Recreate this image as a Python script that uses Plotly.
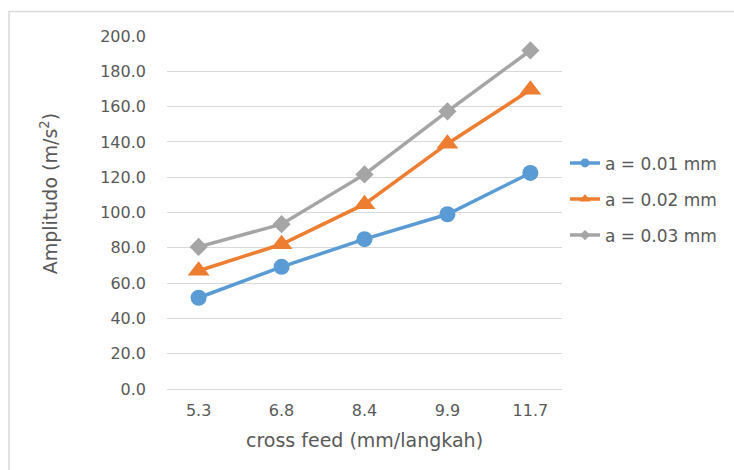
import plotly.graph_objects as go

categories = ["5.3", "6.8", "8.4", "9.9", "11.7"]
a001 = [51.7, 69.2, 84.9, 99.0, 122.4]
a002 = [67.0, 82.0, 104.7, 139.0, 169.5]
a003 = [80.5, 93.4, 121.6, 157.3, 191.8]
series_names = ["a = 0.01 mm", "a = 0.02 mm", "a = 0.03 mm"]
y_ticks = [0, 20, 40, 60, 80, 100, 120, 140, 160, 180, 200]

colors = ["#5B9BD5", "#ED7D31", "#A5A5A5"]
symbols = ["circle", "triangle-up", "diamond"]
sizes = [16, 19, 14]
legend_sizes = [9, 10, 8]

FONT = "DejaVu Sans"
TXT = "#595959"

fig = go.Figure()
for i, (vals, name) in enumerate(zip([a001, a002, a003], series_names)):
    fig.add_trace(go.Scatter(
        x=categories, y=vals, name=name, mode="lines+markers",
        line=dict(color=colors[i], width=3.5),
        marker=dict(color=colors[i], symbol=symbols[i], size=sizes[i]),
        legendgroup=f"g{i}", showlegend=False,
    ))
    # legend entry with smaller marker, as in the reference legend
    fig.add_trace(go.Scatter(
        x=[None], y=[None], name=name, mode="lines+markers",
        line=dict(color=colors[i], width=3.5),
        marker=dict(color=colors[i], symbol=symbols[i], size=legend_sizes[i]),
        legendgroup=f"g{i}", showlegend=True, hoverinfo="skip",
    ))

L, R, T, B = 167, 172, 35.5, 81
W, H = 734, 470
pw, ph = W - L - R, H - T - B

def px(x):
    return (x - L) / pw

def py(y):
    return (H - B - y) / ph

fig.add_shape(type="rect", xref="paper", yref="paper",
              x0=px(9), x1=px(745), y0=py(480), y1=py(11),
              line=dict(color="#d9d9d9", width=1.5), fillcolor="rgba(0,0,0,0)", layer="below")

fig.add_annotation(
    text="Amplitudo (m/s<sup>2</sup>)", xref="paper", yref="paper",
    x=px(49), y=py(194), xanchor="center", yanchor="middle",
    textangle=-90, showarrow=False, font=dict(family=FONT, size=19, color=TXT),
)

fig.update_layout(
    width=W, height=H,
    margin=dict(l=L, r=R, t=T, b=B),
    paper_bgcolor="white", plot_bgcolor="white",
    font=dict(family=FONT, color=TXT, size=16),
    showlegend=True,
    legend=dict(
        x=px(565), y=py(145), xanchor="left", yanchor="top",
        font=dict(family=FONT, size=17, color=TXT),
        tracegroupgap=11, itemwidth=30, bgcolor="rgba(0,0,0,0)",
    ),
    xaxis=dict(
        type="category", showgrid=False, showline=False, zeroline=False,
        ticks="", tickfont=dict(size=16, color=TXT), ticklabelstandoff=10,
        title=dict(text="cross feed (mm/langkah)", font=dict(size=19, color=TXT), standoff=14),
    ),
    yaxis=dict(
        range=[0, 200], tickvals=y_ticks, tickformat=".1f",
        showgrid=True, gridcolor="#d9d9d9", gridwidth=1,
        zeroline=True, zerolinecolor="#d9d9d9", zerolinewidth=1, showline=False,
        ticks="", tickfont=dict(size=16, color=TXT), ticklabelstandoff=20,
    ),
)

fig.write_html("out.html")
